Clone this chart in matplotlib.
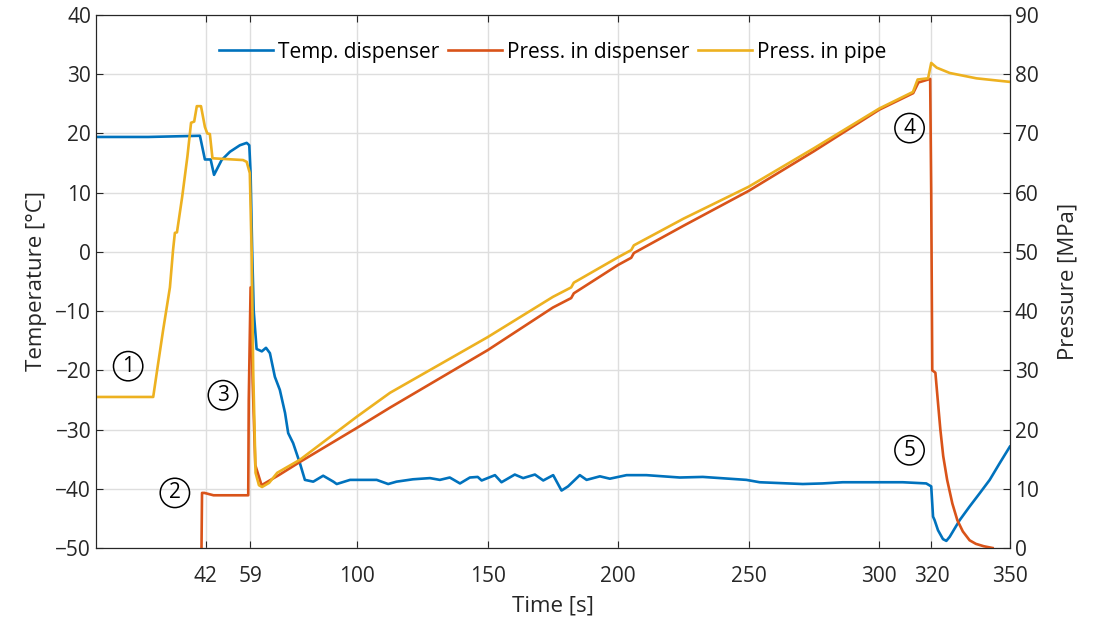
import matplotlib.pyplot as plt
import numpy as np

plt.rcParams['font.family'] = ['Open Sans', 'DejaVu Sans']

# temperature in the dispenser [degC]
t_temp = [0, 20, 39.8, 41.7, 43.9, 45.2, 48.1, 51.3, 55.1, 57.7, 58.7, 59.2, 59.8, 60.4,
          61.5, 63.5, 65.1, 66.6, 68.5, 70.4, 72.4, 73.6, 75.5, 78.1, 80, 83.2, 87, 90.9,
          92.2, 97.3, 107.5, 111.9, 115.1, 121.4, 127.9, 131.7, 135.5, 139.4, 143.2, 146.2,
          147.7, 152.8, 155.3, 160.4, 163.6, 168.1, 171.3, 175.1, 178.3, 180.8, 185.3, 187.9,
          193, 196.8, 203.2, 210.8, 223.6, 232.4, 249.1, 254.2, 270.7, 278.3, 286, 309, 318,
          319.9, 320.6, 321.2, 322.5, 324.4, 325.7, 327, 330.8, 334.6, 338.4, 342.3, 346.1, 350]
temp = [19.4, 19.4, 19.6, 15.6, 15.6, 13.0, 15.5, 16.9, 18.0, 18.4, 18.0, 13.3, 0.3, -10,
        -16.4, -16.8, -16.2, -17.1, -21.1, -23.3, -27.2, -30.6, -32.3, -35.7, -38.5, -38.8, -37.8, -38.8,
        -39.2, -38.5, -38.5, -39.2, -38.8, -38.4, -38.2, -38.5, -38.1, -39.1, -38.1, -38.0,
        -38.6, -37.7, -38.9, -37.6, -38.2, -37.6, -38.6, -37.7, -40.3, -39.6, -37.7, -38.5,
        -37.9, -38.3, -37.7, -37.7, -38.1, -38.0, -38.5, -38.9, -39.2, -39.1, -38.9, -38.9, -39.1,
        -39.6, -44.7, -45.3, -47.0, -48.5, -48.8, -48.1, -45.3, -43.0, -40.8, -38.5, -35.7, -32.9]

# pressure in the dispenser [MPa]
t_pd = [40.4, 40.6, 41.5, 45, 58.3, 58.5, 59.2, 60.0, 61.0, 63.4, 70, 78, 100, 112.6, 150,
        175, 182, 183, 200, 205, 206, 225, 250, 275, 300, 313, 315, 319.5, 319.9, 320.3,
        321.5, 322.5, 323.4, 324.5, 326.0, 328.0, 329.9, 332.0, 334.6, 337.0, 340, 343.4]
p_disp = [0, 9.3, 9.3, 8.9, 8.9, 25, 44, 28, 14, 10.6, 12.3, 14.5, 20.3, 23.7, 33.4,
          40.6, 42.2, 43.0, 47.8, 49.0, 49.8, 54.4, 60.3, 67.0, 74.0, 76.8, 78.6, 79.2, 60,
          30.0, 29.6, 24.5, 20.0, 15.5, 11.5, 7.5, 4.7, 2.8, 1.3, 0.7, 0.3, 0]

# pressure in the pipe [MPa]
t_pp = [0, 21.9, 23.8, 25.7, 28.3, 29.5, 30.2, 31.0, 33.0, 35.0, 36.4, 37.6, 38.6, 40.2,
        41.7, 42.6, 43.6, 44.6, 56.3, 57.7, 58.9, 59.6, 60.2, 61.1, 62.4, 63.6, 66.3, 69.4,
        78.1, 100, 112.6, 150, 175, 182, 183, 200, 205, 206, 225, 250, 275, 300, 312.9,
        314.7, 318.7, 319.9, 322.0, 327.0, 337.2, 350]
p_pipe = [25.5, 25.5, 31.2, 36.8, 44.0, 50.3, 53.2, 53.3, 59.3, 66.1, 71.8, 72.0, 74.6, 74.6,
          71.1, 70.0, 69.9, 65.8, 65.5, 65.2, 63.3, 50.3, 30.0, 12.7, 10.6, 10.3, 11.0, 12.7,
          14.9, 22.2, 26.2, 35.6, 42.4, 44.0, 44.8, 49.1, 50.3, 51.1, 55.6, 61.0, 67.5, 74.2,
          77.0, 79.1, 79.3, 81.9, 81.1, 80.2, 79.3, 78.7]

xticks = [42, 59, 100, 150, 200, 250, 300, 320, 350]
marks = [('1', 12.3, -19.3), ('2', 30.2, -40.7), ('3', 48.6, -24.2),
         ('4', 311.6, 20.9), ('5', 311.6, -33.5)]

c_blue = '#0072BD'
c_red = '#D95319'
c_yel = '#EDB120'
dark = '#262626'

fig = plt.figure(figsize=(11, 6.23), dpi=100)
ax = fig.add_axes([0.0873, 0.1204, 0.8307, 0.8556])
ax2 = ax.twinx()

l1, = ax.plot(t_temp, temp, color=c_blue, lw=1.9, label='Temp. dispenser')
l2, = ax2.plot(t_pd, p_disp, color=c_red, lw=1.9, label='Press. in dispenser')
l3, = ax2.plot(t_pp, p_pipe, color=c_yel, lw=1.9, label='Press. in pipe')

ax.set_xlim(0, 350)
ax.set_ylim(-50, 40)
ax2.set_ylim(0, 90)
ax.set_xticks(xticks)
ax.set_yticks(np.arange(-50, 41, 10))
ax2.set_yticks(np.arange(0, 91, 10))
ax.grid(True, color='#dedede', lw=1)
ax.set_axisbelow(True)

for a in (ax, ax2):
    for s in a.spines.values():
        s.set_color(dark)
    a.tick_params(direction='in', length=5, colors=dark, labelsize=15)
ax.tick_params(axis='x', top=True, pad=13)

ax.set_xlabel('Time [s]', fontsize=16, color=dark, labelpad=6)
ax.set_ylabel('Temperature [°C]', fontsize=16, color=dark, labelpad=6)
ax2.set_ylabel('Pressure [MPa]', fontsize=16, color=dark, labelpad=14)

for txt, x, y in marks:
    ax.text(x, y, txt, fontsize=15, ha='center', va='center', color='black',
            bbox=dict(boxstyle='circle,pad=0.2', fc='none', ec='black', lw=1.1))

ax2.legend(handles=[l1, l2, l3], loc='upper center', ncol=3, frameon=False,
           fontsize=15, handlelength=2.6, handletextpad=0.25, columnspacing=0.4,
           bbox_to_anchor=(0.5, 0.985))

fig.savefig('out.png', dpi=100)
